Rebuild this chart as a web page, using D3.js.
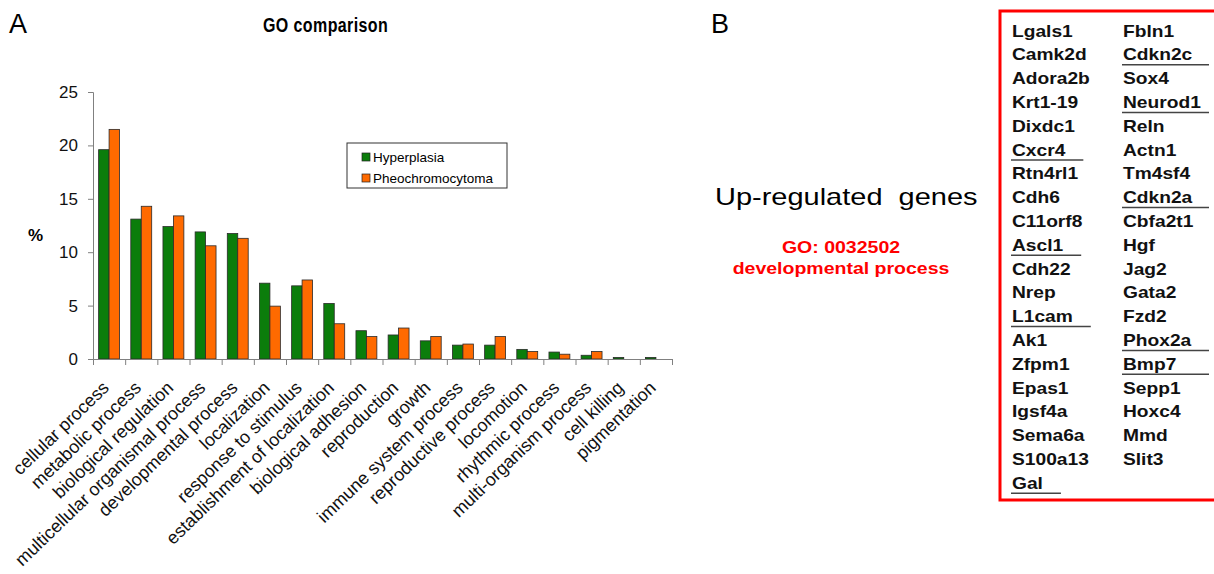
<!DOCTYPE html>
<html>
<head>
<meta charset="utf-8">
<script src="https://cdnjs.cloudflare.com/ajax/libs/d3/7.8.5/d3.min.js"></script>
<style>
  body { margin: 0; background: #fff; }
  svg { font-family: Arial, "Liberation Sans", sans-serif; }
</style>
</head>
<body>
<script>

// GO categories and the two series (percent of genes)
var categories = ["cellular process", "metabolic process", "biological regulation",
  "multicellular organismal process", "developmental process", "localization",
  "response to stimulus", "establishment of localization", "biological adhesion",
  "reproduction", "growth", "immune system process", "reproductive process",
  "locomotion", "rhythmic process", "multi-organism process", "cell killing", "pigmentation"];

var hyperplasia = [19.6, 13.1, 12.4, 11.9, 11.75, 7.1, 6.85, 5.2, 2.65,
  2.25, 1.7, 1.3, 1.3, 0.9, 0.65, 0.35, 0.15, 0.15];

var pheochromocytoma = [21.5, 14.3, 13.4, 10.6, 11.3, 4.95, 7.4, 3.3, 2.1,
  2.9, 2.1, 1.4, 2.1, 0.7, 0.45, 0.7, 0, 0];

var seriesNames = ["Hyperplasia", "Pheochromocytoma"];
var yTicks = [0, 5, 10, 15, 20, 25];

// panel B gene list
var genesLeft = ["Lgals1", "Camk2d", "Adora2b", "Krt1-19", "Dixdc1", "Cxcr4", "Rtn4rl1",
  "Cdh6", "C11orf8", "Ascl1", "Cdh22", "Nrep", "L1cam", "Ak1", "Zfpm1", "Epas1",
  "Igsf4a", "Sema6a", "S100a13", "Gal"];
var genesRight = ["Fbln1", "Cdkn2c", "Sox4", "Neurod1", "Reln", "Actn1", "Tm4sf4",
  "Cdkn2a", "Cbfa2t1", "Hgf", "Jag2", "Gata2", "Fzd2", "Phox2a", "Bmp7", "Sepp1",
  "Hoxc4", "Mmd", "Slit3"];
var underlined = ["Cxcr4", "Ascl1", "L1cam", "Gal", "Cdkn2c", "Neurod1", "Cdkn2a", "Phox2a", "Bmp7"];

var colors = ["#0b7d0b", "#ff6a00"];

(function() {

  var width = 1214,
      height = 574;

  var svg = d3.select("body").append("svg")
      .attr("width", width)
      .attr("height", height);

  // ---------- panel A ----------
  // plot area (named to stay clear of window.top)
  var pLeft = 93, pRight = 672, pTop = 92, pBottom = 359;

  var y = d3.scaleLinear().domain([0, 25]).range([pBottom, pTop]);

  var x = d3.scaleBand()
      .domain(categories)
      .range([pLeft, pRight])
      .paddingInner(0.35)
      .paddingOuter(0.175);

  var xSub = d3.scaleBand()
      .domain(seriesNames)
      .range([0, x.bandwidth()]);

  // tick marks between categories
  var xTicks = d3.scaleLinear().domain([0, categories.length]).range([pLeft, pRight]);

  svg.append("text")
      .attr("x", 9).attr("y", 33)
      .style("font-size", "27px")
      .text("A");

  svg.append("text")
      .attr("transform", "translate(263,32) scale(0.8,1)")
      .style("font-size", "20px")
      .style("font-weight", "bold")
      .style("letter-spacing", "0.5px")
      .text("GO comparison");

  var yAxis = d3.axisLeft(y).tickValues(yTicks).tickSize(5).tickPadding(10);

  var yg = svg.append("g")
      .attr("transform", "translate(" + pLeft + ",0)")
      .call(yAxis);
  yg.select(".domain").attr("stroke", "#808080");
  yg.selectAll(".tick line").attr("stroke", "#808080");
  yg.selectAll(".tick text")
      .style("font-size", "17px")
      .attr("fill", "#111");

  svg.append("text")
      .attr("x", 28).attr("y", 241)
      .style("font-size", "17px")
      .style("font-weight", "bold")
      .text("%");

  // bars
  var groups = svg.append("g").selectAll("g")
      .data(categories)
      .enter().append("g")
      .attr("transform", function(d) { return "translate(" + x(d) + ",0)"; });

  groups.selectAll("rect")
      .data(function(d, i) { return [hyperplasia[i], pheochromocytoma[i]]; })
      .enter().append("rect")
      .attr("x", function(d, j) { return xSub(seriesNames[j]); })
      .attr("width", xSub.bandwidth())
      .attr("y", function(d) { return y(d); })
      .attr("height", function(d) { return pBottom - y(d); })
      .attr("fill", function(d, j) { return colors[j]; })
      .attr("stroke", function(d) { return d > 0 ? "#2a2a2a" : "none"; })
      .attr("stroke-width", 0.8);

  var xAxis = d3.axisBottom(xTicks)
      .tickValues(d3.range(categories.length + 1))
      .tickFormat("")
      .tickSizeOuter(0)
      .tickSize(6);

  var xg = svg.append("g")
      .attr("transform", "translate(0," + pBottom + ")")
      .call(xAxis);
  xg.select(".domain").attr("stroke", "#808080");
  xg.selectAll(".tick line").attr("stroke", "#808080");

  // rotated category labels
  svg.append("g").selectAll("text")
      .data(categories)
      .enter().append("text")
      .attr("transform", function(d) {
        return "translate(" + (x(d) + x.bandwidth() / 2 + 1) + "," + (pBottom + 30) + ") rotate(-44)";
      })
      .attr("text-anchor", "end")
      .style("font-size", "18px")
      .attr("fill", "#111")
      .text(function(d) { return d; });

  // legend
  var legend = svg.append("g").attr("transform", "translate(347,143)");
  legend.append("rect")
      .attr("width", 160).attr("height", 45)
      .attr("fill", "#fff")
      .attr("stroke", "#333")
      .attr("stroke-width", 1);

  seriesNames.forEach(function(name, i) {
    legend.append("rect")
        .attr("x", 15).attr("y", 10 + i * 21)
        .attr("width", 8).attr("height", 8)
        .attr("fill", colors[i])
        .attr("stroke", "#222")
        .attr("stroke-width", 0.7);
    legend.append("text")
        .attr("x", 26).attr("y", 19 + i * 21)
        .style("font-size", "13.5px")
        .text(name);
  });

  // ---------- panel B ----------
  svg.append("text")
      .attr("x", 711).attr("y", 33)
      .style("font-size", "27px")
      .text("B");

  svg.append("text")
      .attr("transform", "translate(715,205) scale(1.26,1)")
      .style("font-size", "23px")
      .style("white-space", "pre")
      .text("Up-regulated  genes");

  var goText = ["GO: 0032502", "developmental process"];
  goText.forEach(function(t, i) {
    svg.append("text")
        .attr("transform", "translate(841," + (253 + i * 20.5) + ") scale(1.22,1)")
        .attr("text-anchor", "middle")
        .attr("fill", "#ff0000")
        .style("font-size", "16px")
        .style("font-weight", "bold")
        .text(t);
  });

  svg.append("rect")
      .attr("x", 1000).attr("y", 11)
      .attr("width", 240).attr("height", 489)
      .attr("fill", "none")
      .attr("stroke", "#ff0000")
      .attr("stroke-width", 3);

  var rowStep = 23.8, firstBase = 36.5;

  function geneColumn(list, x0, lineEnd) {
    list.forEach(function(g, i) {
      var by = firstBase + i * rowStep;
      var t = svg.append("text")
          .attr("transform", "translate(" + x0 + "," + by + ") scale(1.2,1)")
          .style("font-size", "16px")
          .style("font-weight", "bold")
          .attr("fill", "#111")
          .text(g);
      if (underlined.indexOf(g) >= 0) {
        var w = t.node().getComputedTextLength() * 1.2;
        var x1 = lineEnd ? lineEnd : x0 + w + 18;
        svg.append("line")
            .attr("x1", x0 - 1).attr("x2", x1)
            .attr("y1", by + 4.5).attr("y2", by + 4.5)
            .attr("stroke", "#444")
            .attr("stroke-width", 1.5);
      }
    });
  }

  geneColumn(genesLeft, 1012, null);
  geneColumn(genesRight, 1123, 1209);

})();

</script>
</body>
</html>
